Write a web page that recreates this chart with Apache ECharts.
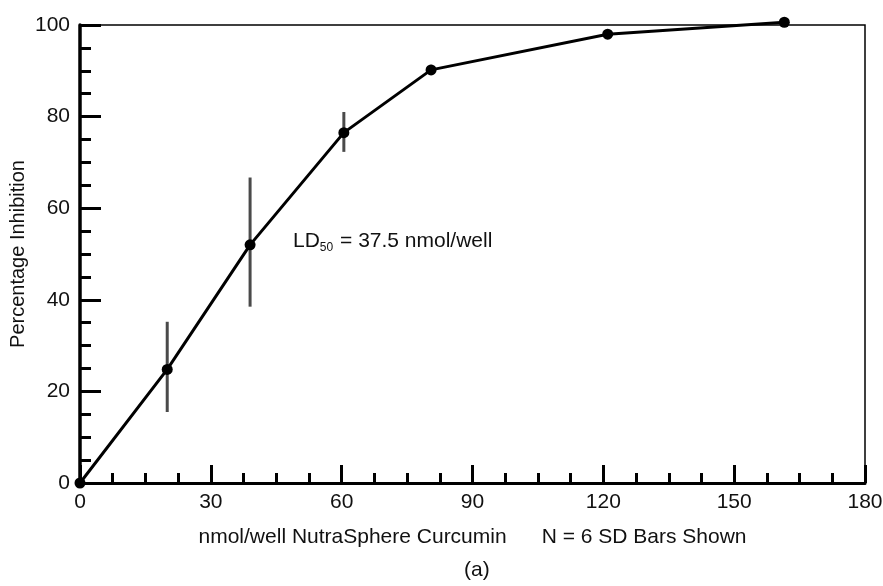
<!DOCTYPE html>
<html>
<head>
<meta charset="utf-8">
<script src="https://cdn.jsdelivr.net/npm/echarts@6/dist/echarts.min.js"></script>
<style>html,body{margin:0;padding:0;background:#fff}#c{width:883px;height:586px}</style>
</head>
<body>
<div id="c"></div>
<script>
var doses = [0, 20, 39, 60.5, 80.5, 121, 161.5];
var inhibition = [0, 24.8, 52, 76.5, 90.2, 98, 100.6];
var errX = [20, 39, 60.5, 80.5];
var errLow = [15.5, 38.5, 72.3, 89.2];
var errHigh = [35.2, 66.7, 81, 91.3];
var xTicks = [0, 30, 60, 90, 120, 150, 180];
var yTicks = [0, 20, 40, 60, 80, 100];

var FONT = 'Liberation Sans, Arial, sans-serif';
var TXT = '#111';

var lineData = doses.map(function (d, i) { return [d, inhibition[i]]; });
var errData = errX.map(function (d, i) { return [d, errLow[i], errHigh[i]]; });

var chart = echarts.init(document.getElementById('c'));
chart.setOption({
  animation: false,
  backgroundColor: '#fff',
  grid: { left: 80, right: 18, top: 25, bottom: 103, show: true, borderColor: '#000', borderWidth: 1.5, backgroundColor: 'transparent', containLabel: false, outerBoundsMode: 'none' },
  xAxis: {
    type: 'value', min: xTicks[0], max: xTicks[xTicks.length - 1], interval: 30,
    name: 'nmol/well NutraSphere Curcumin      N = 6 SD Bars Shown',
    nameLocation: 'middle', nameGap: 44, nameMoveOverlap: false,
    nameTextStyle: { fontFamily: FONT, fontSize: 21, color: TXT },
    axisLine: { lineStyle: { color: '#000', width: 3 } },
    axisTick: { inside: true, length: 18, lineStyle: { color: '#000', width: 3 } },
    minorTick: { show: true, splitNumber: 4, length: 10, lineStyle: { color: '#000', width: 3 } },
    axisLabel: { fontFamily: FONT, fontSize: 21, color: TXT, margin: 9 },
    splitLine: { show: false }, minorSplitLine: { show: false }
  },
  yAxis: {
    type: 'value', min: yTicks[0], max: yTicks[yTicks.length - 1], interval: 20,
    name: 'Percentage Inhibition',
    nameLocation: 'middle', nameGap: 52, nameMoveOverlap: false,
    nameTextStyle: { fontFamily: FONT, fontSize: 20, color: TXT },
    axisLine: { lineStyle: { color: '#000', width: 3.5 } },
    axisTick: { inside: true, length: 21, lineStyle: { color: '#000', width: 3 } },
    minorTick: { show: true, splitNumber: 4, length: 11, lineStyle: { color: '#000', width: 3 } },
    axisLabel: { fontFamily: FONT, fontSize: 21, color: TXT, margin: 10 },
    splitLine: { show: false }, minorSplitLine: { show: false }
  },
  graphic: [
    {
      type: 'text', left: 293, top: 230,
      style: {
        text: '{a|LD}{s|50}{a| = 37.5 nmol/well}',
        rich: {
          a: { fontFamily: FONT, fontSize: 21, fill: TXT, lineHeight: 26 },
          s: { fontFamily: FONT, fontSize: 12, fill: TXT, lineHeight: 26, verticalAlign: 'bottom', padding: [12, 1, 0, 0] }
        }
      }
    },
    {
      type: 'text', left: 464, top: 560,
      style: { text: '(a)', fontFamily: FONT, fontSize: 21, fill: TXT }
    }
  ],
  series: [
    {
      type: 'custom', z: 1, clip: false,
      data: errData,
      renderItem: function (params, api) {
        var p1 = api.coord([api.value(0), api.value(1)]);
        var p2 = api.coord([api.value(0), api.value(2)]);
        return { type: 'line', shape: { x1: p1[0], y1: p1[1], x2: p2[0], y2: p2[1] }, style: { stroke: '#4a4a4a', lineWidth: 3 } };
      }
    },
    {
      type: 'line', z: 3, clip: false,
      data: lineData,
      symbol: 'circle', symbolSize: 11,
      itemStyle: { color: '#000' },
      lineStyle: { color: '#000', width: 3 }
    }
  ]
});
</script>
</body>
</html>
